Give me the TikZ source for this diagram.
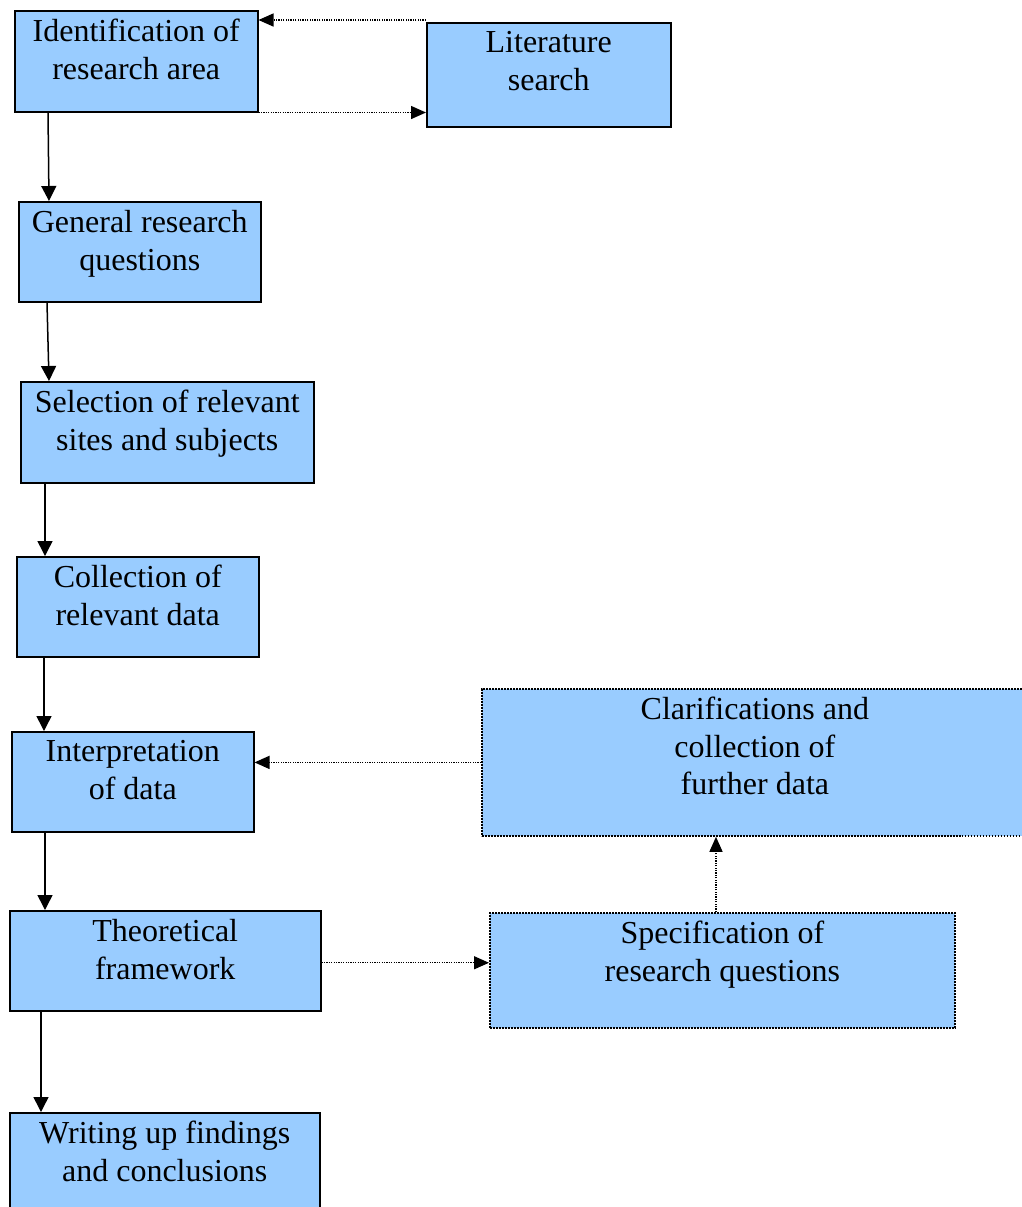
\documentclass[tikz,border=0pt]{standalone}
\usepackage{fontspec}
\setmainfont{Liberation Serif}
\usepackage{xcolor}
\usepackage{tikz}
\usetikzlibrary{arrows.meta,calc}
\definecolor{boxblue}{HTML}{99CCFF}

\begin{document}
\begin{tikzpicture}[x=0.5pt, y=-0.5pt,
        stepnode/.style={rectangle, anchor=north west, draw=black, fill=boxblue, line width=0.75pt, inner sep=0pt},
        dotnode/.style={stepnode, dash pattern=on 0.8pt off 0.7pt, line width=0.9pt},
        textnode/.style={anchor=north, align=center, inner sep=0pt, yshift=-4.5pt, font=\fontsize{16}{18.75}\selectfont},
        solidarrow/.style={-{Triangle[length=7.5pt,width=7.5pt]}, line width=0.75pt},
        dotarrow/.style={-{Triangle[length=7.5pt,width=6.5pt]}, dash pattern=on 0.6pt off 0.6pt, line width=0.7pt},
    ]
    \useasboundingbox (0,0) rectangle (1022,1207);
    %Nodes
    \node[stepnode, minimum width=121.5pt, minimum height=50.5pt] (identnode) at (14,10) {};
    \node[stepnode, minimum width=122pt, minimum height=52pt] (litnode) at (426,22) {};
    \node[stepnode, minimum width=121pt, minimum height=50pt] (gennode) at (18,201) {};
    \node[stepnode, minimum width=146.5pt, minimum height=50.5pt] (selnode) at (20,381) {};
    \node[stepnode, minimum width=121pt, minimum height=50pt] (collnode) at (16,556) {};
    \node[stepnode, minimum width=121pt, minimum height=50pt] (interpnode) at (11,731) {};
    \node[stepnode, minimum width=155.5pt, minimum height=50pt] (theonode) at (9,910) {};
    \node[stepnode, minimum width=155pt, minimum height=52pt] (writnode) at (9,1112) {};
    \node[dotnode, minimum width=273pt, minimum height=73.5pt] (clarnode) at (481,688) {};
    \node[dotnode, minimum width=232.5pt, minimum height=57.5pt] (specnode) at (489,912) {};
    %Texts
    \node[textnode] (identtext) at (identnode.north) {Identification of\\research area};
    \node[textnode] (littext) at (litnode.north) {Literature\\search};
    \node[textnode] (gentext) at (gennode.north) {General research\\questions};
    \node[textnode] (seltext) at (selnode.north) {Selection of relevant\\sites and subjects};
    \node[textnode] (colltext) at (collnode.north) {Collection of\\relevant data};
    \node[textnode] (interptext) at (interpnode.north) {Interpretation\\of data};
    \node[textnode] (theotext) at (theonode.north) {Theoretical\\framework};
    \node[textnode] (writtext) at (writnode.north) {Writing up findings\\and conclusions};
    \node[textnode] (clartext) at (clarnode.north) {Clarifications and\\collection of\\further data};
    \node[textnode] (spectext) at (specnode.north) {Specification of\\research questions};
    %Lines
    \draw[solidarrow] ([xshift=17pt]identnode.south west) -- ([xshift=15.5pt]gennode.north west);
    \draw[solidarrow] ([xshift=14.5pt]gennode.south west) -- ([xshift=14.5pt]selnode.north west);
    \draw[solidarrow] ([xshift=12.5pt]selnode.south west) -- ([xshift=14.5pt]collnode.north west);
    \draw[solidarrow] ([xshift=14pt]collnode.south west) -- ([xshift=16.5pt]interpnode.north west);
    \draw[solidarrow] ([xshift=17pt]interpnode.south west) -- ([xshift=18pt]theonode.north west);
    \draw[solidarrow] ([xshift=16pt]theonode.south west) -- ([xshift=16pt]writnode.north west);
    \draw[dotarrow] ([yshift=1pt]litnode.north west) -- ([yshift=1pt]litnode.north west -| identnode.east);
    \draw[dotarrow] (identnode.south east) -- (identnode.south east -| litnode.west);
    \draw[dotarrow] (clarnode.west) -- (clarnode.west -| interpnode.east);
    \draw[dotarrow] ([yshift=-1pt]theonode.east) -- ([yshift=-1pt]theonode.east -| specnode.west);
    \draw[dotarrow] ([xshift=113.5pt]specnode.north west) -- ([xshift=113.5pt]specnode.north west |- clarnode.south);
\end{tikzpicture}
\end{document}
